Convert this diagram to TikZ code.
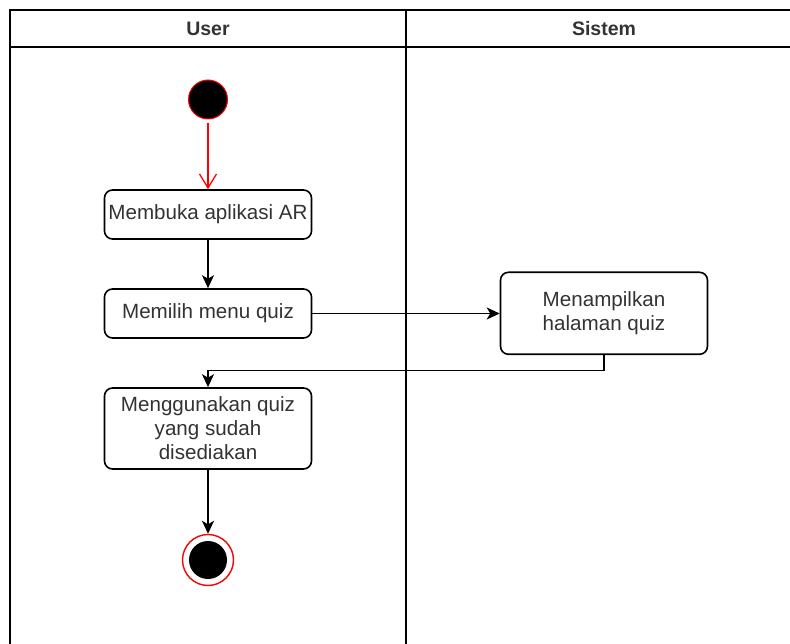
\documentclass[tikz,border=0pt]{standalone}
\usepackage{fontspec}
\setmainfont{Liberation Sans}
\usetikzlibrary{arrows.meta}
\definecolor{txt}{HTML}{333333}
\definecolor{umlred}{HTML}{FF0000}
\tikzset{
  act/.style={draw=black, line width=1.6pt, rounded corners=8pt, fill=white,
    minimum width=207pt, inner sep=0pt, align=center, text=txt,
    font=\fontsize{20.6}{24}\selectfont},
  flow/.style={draw=black, line width=1.9pt,
    -{Stealth[length=13pt,width=12pt,inset=3.5pt]}},
  lane/.style={draw=black, line width=1.8pt},
  lanetitle/.style={font=\fontsize{19.5}{22}\selectfont\bfseries, text=txt}
}
\begin{document}
\begin{tikzpicture}[x=1pt,y=-1pt]
\useasboundingbox (0,0) rectangle (790,644);
\fill[white] (0,0) rectangle (790,644);
% swimlane frame
\begin{scope}
\clip (0,0) rectangle (790,644);
\draw[lane] (10,700) -- (10,10) -- (820,10);
\draw[lane] (10,47) -- (820,47);
\draw[lane] (406,10) -- (406,700);
\end{scope}
\node[lanetitle] (lu) at (208,29) {User};
\node[lanetitle] (ls) at (604,29) {Sistem};
% start and end
\node[circle, fill=black, draw=umlred, line width=1pt, minimum size=39pt, inner sep=0pt] (start) at (208,99.5) {};
\node[act, minimum height=49pt] (a1) at (208,214.5) {Membuka aplikasi AR};
\node[act, minimum height=49pt] (a2) at (208,313.5) {Memilih menu quiz};
\node[act, minimum height=82pt] (s1) at (604,313.3) {Menampilkan\\halaman quiz};
\node[act, minimum height=81pt] (a3) at (208,428.5) {Menggunakan quiz\\yang sudah\\disediakan};
\node[circle, draw=umlred, line width=1.4pt, fill=white, minimum size=51pt, inner sep=0pt] (stop) at (208,560) {};
\node[circle, fill=black, minimum size=38pt, inner sep=0pt] (stopin) at (stop) {};
\coordinate (bend) at (604,370.5);
% flows
\draw[draw=umlred, line width=1.3pt, -{Straight Barb[length=14pt,width=17pt,line width=1.3pt]}] ([yshift=-4pt]start.south) -- (a1.north);
\draw[flow] (a1) -- (a2);
\draw[flow] (a2.east) -- (s1.west |- a2.east);
\draw[flow] (s1.south) -- (bend) -| (a3.north);
\draw[flow] (a3.south) -- (stop.north);
\end{tikzpicture}
\end{document}
